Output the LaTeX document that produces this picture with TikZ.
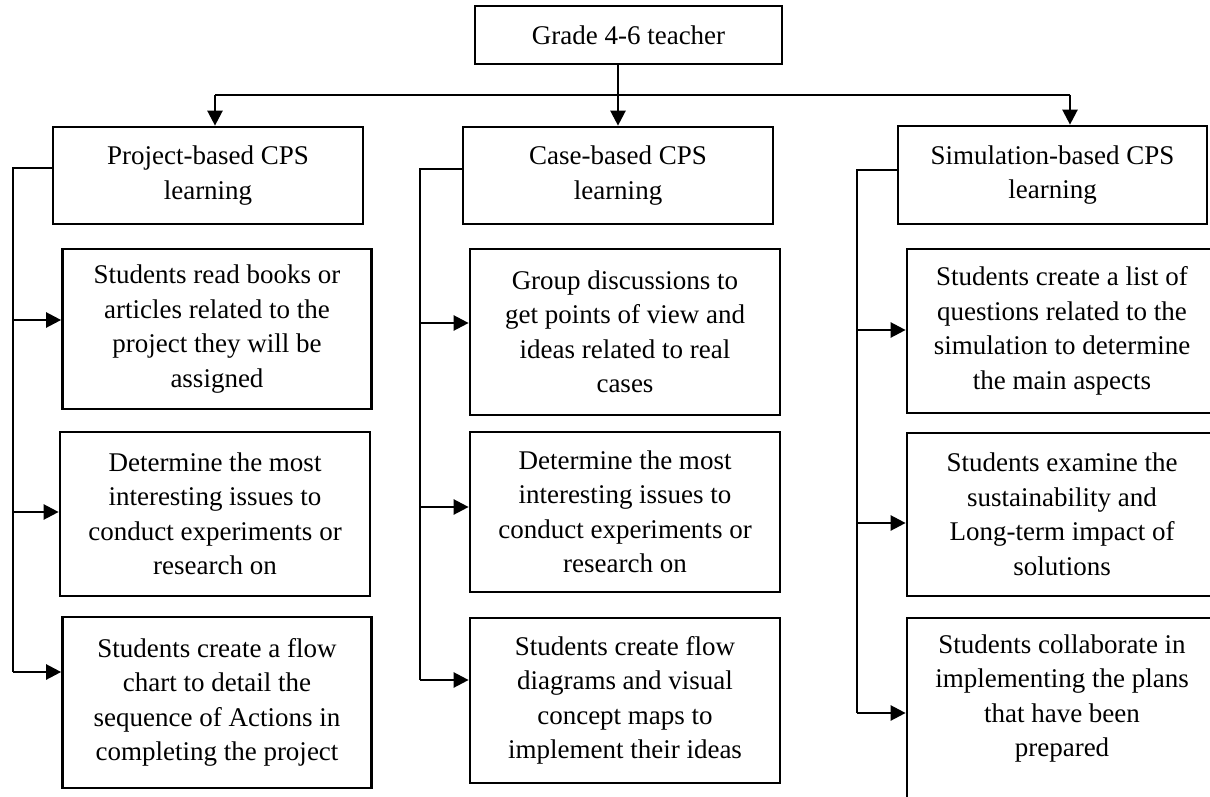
\documentclass[tikz,border=0pt]{standalone}
\usepackage{fontspec}
\setmainfont{Liberation Serif}
\usetikzlibrary{arrows.meta}
\begin{document}
\begin{tikzpicture}[x=1pt,y=-1pt,
  box/.style={draw, line width=2.7pt, align=center, inner sep=0pt,
    font=\fontsize{27}{34.5}\selectfont},
  conn/.style={line width=2.4pt},
  arr/.style={conn, -{Triangle[length=15pt,width=15pt]}}
]
\clip (0,0) rectangle (1210,797);
\useasboundingbox (0,0) rectangle (1210,797);

% top
\node[box, minimum width=307pt, minimum height=58pt] (top) at (628.5,35) {Grade 4-6 teacher};

% second level
\node[box, minimum width=310pt, minimum height=97pt] (p) at (208,175.5) {Project-based CPS\\learning};
\node[box, minimum width=310pt, minimum height=97pt] (c) at (618,175.5) {Case-based CPS\\learning};
\node[box, minimum width=309pt, minimum height=98pt] (s) at (1052.5,175) {Simulation-based CPS\\learning};

% column P
\node[box, minimum width=309pt, minimum height=160pt] (p1) at (217,329) {Students read books or\\articles related to the\\project they will be\\assigned};
\node[box, minimum width=310pt, minimum height=164pt] (p2) at (215,514) {Determine the most\\interesting issues to\\conduct experiments or\\research on};
\node[box, minimum width=309pt, minimum height=171pt] (p3) at (217,702.5) {Students create a flow\\chart to detail the\\sequence of Actions in\\completing the project};

% column C
\node[box, minimum width=310pt, minimum height=166pt] (c1) at (625,332) {Group discussions to\\get points of view and\\ideas related to real\\cases};
\node[box, minimum width=310pt, minimum height=160pt] (c2) at (625,512) {Determine the most\\interesting issues to\\conduct experiments or\\research on};
\node[box, minimum width=310pt, minimum height=165pt] (c3) at (625,700.5) {Students create flow\\diagrams and visual\\concept maps to\\implement their ideas};

% column S
\node[box, minimum width=310pt, minimum height=164pt] (s1) at (1062,331) {Students create a list of\\questions related to the\\simulation to determine\\the main aspects};
\node[box, minimum width=310pt, minimum height=163pt] (s2) at (1062,514.5) {Students examine the\\sustainability and\\Long-term impact of\\solutions};
\node[box, minimum width=310pt, minimum height=220pt] (s3) at (1062,728) {};
\node[align=center, inner sep=0pt, font=\fontsize{27}{34.5}\selectfont] (s3t) at (1062,698.5) {Students collaborate in\\implementing the plans\\that have been\\prepared};

% top connectors
\coordinate (hl) at (215,95);
\coordinate (hr) at (1070,95);
\draw[conn] (hl) -- (hr);
\draw[arr] (hl) -- (hl |- p.north);
\draw[arr] (hr) -- (hr |- s.north);
\draw[arr] (top.south -| c.north) -- (c.north);

% bracket P
\coordinate (pb) at (13,168);
\coordinate (pa1) at (13,320);
\coordinate (pa2) at (13,512);
\coordinate (pa3) at (13,672);
\draw[conn] (p.west |- pb) -- (pb) -- (pa3);
\draw[arr] (pa1) -- (pa1 -| p1.west);
\draw[arr] (pa2) -- (pa2 -| p2.west);
\draw[arr] (pa3) -- (pa3 -| p3.west);

% bracket C
\coordinate (cb) at (420,169);
\coordinate (ca1) at (420,323);
\coordinate (ca2) at (420,507);
\coordinate (ca3) at (420,680);
\draw[conn] (c.west |- cb) -- (cb) -- (ca3);
\draw[arr] (ca1) -- (ca1 -| c1.west);
\draw[arr] (ca2) -- (ca2 -| c2.west);
\draw[arr] (ca3) -- (ca3 -| c3.west);

% bracket S
\coordinate (sb) at (857,170);
\coordinate (sa1) at (857,330);
\coordinate (sa2) at (857,523);
\coordinate (sa3) at (857,713);
\draw[conn] (s.west |- sb) -- (sb) -- (sa3);
\draw[arr] (sa1) -- (sa1 -| s1.west);
\draw[arr] (sa2) -- (sa2 -| s2.west);
\draw[arr] (sa3) -- (sa3 -| s3.west);
\end{tikzpicture}
\end{document}
